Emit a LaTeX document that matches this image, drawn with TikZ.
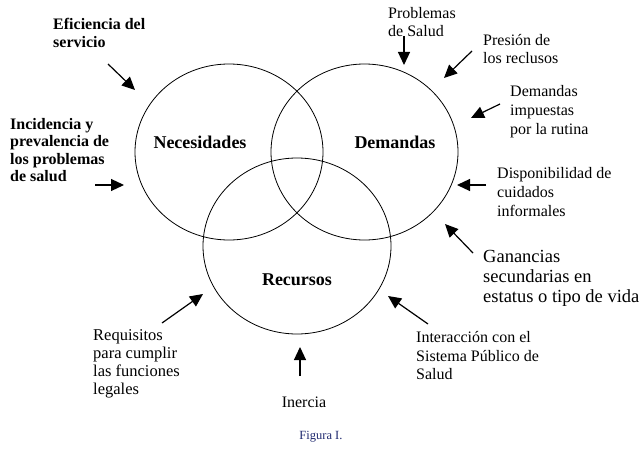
\documentclass[tikz,border=0pt]{standalone}
\usepackage{fontspec}
\setmainfont{Liberation Serif}
\usetikzlibrary{arrows.meta}
\tikzset{
  venn/.style={draw=black, line width=0.8pt},
  clabel/.style={font=\fontsize{18}{20}\selectfont\bfseries, inner sep=0pt},
  lbold/.style={font=\fontsize{16}{18}\selectfont\bfseries, align=left, anchor=west, inner sep=0pt},
  ltext/.style={font=\fontsize{16}{18.5}\selectfont, align=left, anchor=west, inner sep=0pt},
  influence/.style={line width=1.2pt, -{Triangle[length=13pt,width=12pt]}},
}
\begin{document}
\begin{tikzpicture}[x=1pt,y=-1pt]
\useasboundingbox (0,0) rectangle (642,452);
% circles
\draw[venn] (229,152) ellipse [x radius=94, y radius=88];
\draw[venn] (364.5,152) ellipse [x radius=93.5, y radius=88];
\draw[venn] (297,246) ellipse [x radius=94, y radius=88];
\node[clabel] (nec) at (200,142) {Necesidades};
\node[clabel] (dem) at (395,142) {Demandas};
\node[clabel] (rec) at (297,280) {Recursos};
% labels
\node[lbold] (efi) at (53,33) {Eficiencia del\\servicio};
\node[lbold, font=\fontsize{16}{17.5}\selectfont\bfseries] (inc) at (10,150) {Incidencia y\\prevalencia de\\los problemas\\de salud};
\node[ltext] (pro) at (388,22) {Problemas\\de Salud};
\node[ltext] (pre) at (483,49) {Presión de\\los reclusos};
\node[ltext, font=\fontsize{16}{19}\selectfont] (dim) at (510,112) {Demandas\\impuestas\\por la rutina};
\node[ltext, font=\fontsize{16}{19}\selectfont] (dis) at (497,192) {Disponibilidad de\\cuidados\\informales};
\node[ltext, font=\fontsize{18.5}{20}\selectfont] (gan) at (483,278) {Ganancias\\secundarias en\\estatus o tipo de vida};
\node[ltext, font=\fontsize{16.5}{18}\selectfont] (req) at (93,364) {Requisitos\\para cumplir\\las funciones\\legales};
\node[ltext] (int) at (416,356) {Interacción con el\\Sistema Público de\\Salud};
\node[font=\fontsize{16}{18}\selectfont, inner sep=0pt] (ine) at (304,402) {Inercia};
\node[font=\fontsize{12.5}{14}\selectfont, text={rgb,255:red,30;green,40;blue,110}, inner sep=0pt] (fig) at (321,437) {Figura I.};
% arrow endpoints
\coordinate (efiS) at (108,64);  \coordinate (efiT) at (135,90);
\coordinate (incS) at (95,185);  \coordinate (incT) at (124,185);
\coordinate (proS) at (404,36);  \coordinate (proT) at (404,65);
\coordinate (preS) at (472,51);  \coordinate (preT) at (444,78);
\coordinate (dimS) at (500,104); \coordinate (dimT) at (471,118);
\coordinate (disS) at (486,185); \coordinate (disT) at (457,185);
\coordinate (ganS) at (473,253); \coordinate (ganT) at (445,224);
\coordinate (reqS) at (162,323); \coordinate (reqT) at (203,294);
\coordinate (intS) at (428,324); \coordinate (intT) at (388,296);
\coordinate (ineS) at (300,376); \coordinate (ineT) at (300,347);
\foreach \n in {efi,inc,pro,pre,dim,dis,gan,req,int,ine}
  \draw[influence] (\n S) -- (\n T);
\end{tikzpicture}
\end{document}
